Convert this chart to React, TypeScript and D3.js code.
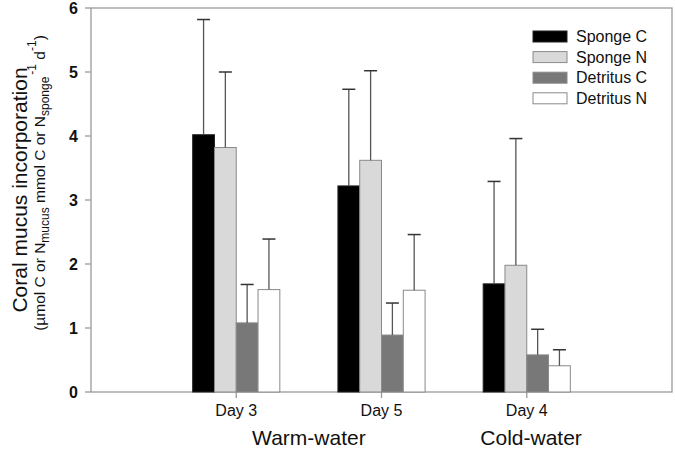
import React from "react";
import * as d3 from "d3";

const categories = ["Day 3", "Day 5", "Day 4"];
const groups = [
  { label: "Warm-water", pos: 1.5 },
  { label: "Cold-water", pos: 3.03 },
];
const seriesNames = ["Sponge C", "Sponge N", "Detritus C", "Detritus N"];
const spongeC = [4.02, 3.22, 1.69];
const spongeN = [3.82, 3.62, 1.98];
const detritusC = [1.08, 0.89, 0.58];
const detritusN = [1.6, 1.59, 0.41];
const spongeCErr = [1.8, 1.51, 1.6];
const spongeNErr = [1.18, 1.4, 1.98];
const detritusCErr = [0.6, 0.5, 0.4];
const detritusNErr = [0.79, 0.87, 0.25];
const yTicks = [0, 1, 2, 3, 4, 5, 6];

const seriesValues = [spongeC, spongeN, detritusC, detritusN];
const seriesErrors = [spongeCErr, spongeNErr, detritusCErr, detritusNErr];
const colors = ["#000000", "#d9d9d9", "#787878", "#ffffff"];

const W = 675;
const H = 457;
const FONT = "'Liberation Sans', Arial, sans-serif";

export default function App() {
  const x = d3.scaleLinear().domain([0, 4]).range([91, 672]);
  const y = d3.scaleLinear().domain([0, 6]).range([392, 8]);
  const barW = 0.15;
  const frame = "#9a9a9a";

  return (
    <svg
      width={W}
      height={H}
      style={{ position: "absolute", left: 0, top: 0, background: "#fff" }}
      fontFamily={FONT}
    >
      {/* frame */}
      <rect x={x(0)} y={y(6)} width={x(4) - x(0)} height={y(0) - y(6)} fill="none" stroke={frame} strokeWidth={1.3} />
      {/* y ticks */}
      {yTicks.map((t) => (
        <g key={t}>
          <line x1={x(0) - 6} x2={x(0)} y1={y(t)} y2={y(t)} stroke={frame} strokeWidth={1.3} />
          <text x={x(0) - 13} y={y(t)} dy="0.36em" textAnchor="end" fontSize={16} fontWeight="bold" fill="#111">
            {t}
          </text>
        </g>
      ))}
      {/* x ticks */}
      {categories.map((c, i) => (
        <g key={c}>
          <line x1={x(i + 1)} x2={x(i + 1)} y1={y(0)} y2={y(0) + 6} stroke={frame} strokeWidth={1.3} />
          <text x={x(i + 1)} y={416} textAnchor="middle" fontSize={16} fill="#111">
            {c}
          </text>
        </g>
      ))}
      {groups.map((g) => (
        <text key={g.label} x={x(g.pos)} y={445} textAnchor="middle" fontSize={21} fill="#111">
          {g.label}
        </text>
      ))}
      {/* bars */}
      {seriesValues.map((vals, s) =>
        vals.map((v, i) => {
          const cx = i + 1 - 0.3 + barW * s + barW / 2;
          const x0 = x(cx - barW / 2);
          const x1 = x(cx + barW / 2);
          return (
            <rect
              key={`${s}-${i}`}
              x={x0}
              y={y(v)}
              width={x1 - x0}
              height={y(0) - y(v)}
              fill={colors[s]}
              stroke={s === 0 ? "#222" : "#8a8a8a"}
              strokeWidth={1}
            />
          );
        })
      )}
      {/* error bars */}
      {seriesValues.map((vals, s) =>
        vals.map((v, i) => {
          const cx = x(i + 1 - 0.3 + barW * s + barW / 2);
          const top = y(v + seriesErrors[s][i]);
          return (
            <g key={`e${s}-${i}`}>
              <line x1={cx} x2={cx} y1={y(v)} y2={top} stroke="#555" strokeWidth={1.3} />
              <line x1={cx - 6.5} x2={cx + 6.5} y1={top} y2={top} stroke="#333" strokeWidth={1.5} />
            </g>
          );
        })
      )}
      {/* legend */}
      {seriesNames.map((n, i) => (
        <g key={n}>
          <rect x={533} y={31 + i * 20.6} width={34} height={11} fill={colors[i]} stroke={i === 0 ? "#222" : "#8a8a8a"} strokeWidth={1} />
          <text x={576} y={36.5 + i * 20.6} dy="0.36em" fontSize={16} fill="#111">
            {n}
          </text>
        </g>
      ))}
      {/* y axis title */}
      <text transform="translate(27,190) rotate(-90)" textAnchor="middle" fontSize={21} fill="#111">
        Coral mucus incorporation
      </text>
      <text transform="translate(45,183) rotate(-90)" textAnchor="middle" fontSize={15.5} fill="#111">
        <tspan>(µmol C or N</tspan>
        <tspan fontSize={12} dy={4}>mucus</tspan>
        <tspan dy={-4}> mmol C or N</tspan>
        <tspan fontSize={12} dy={4}>sponge</tspan>
        <tspan fontSize={12} dy={-13} dx={2}>-1</tspan>
        <tspan dy={9}> d</tspan>
        <tspan fontSize={12} dy={-9}>-1</tspan>
        <tspan dy={9}>)</tspan>
      </text>
    </svg>
  );
}
